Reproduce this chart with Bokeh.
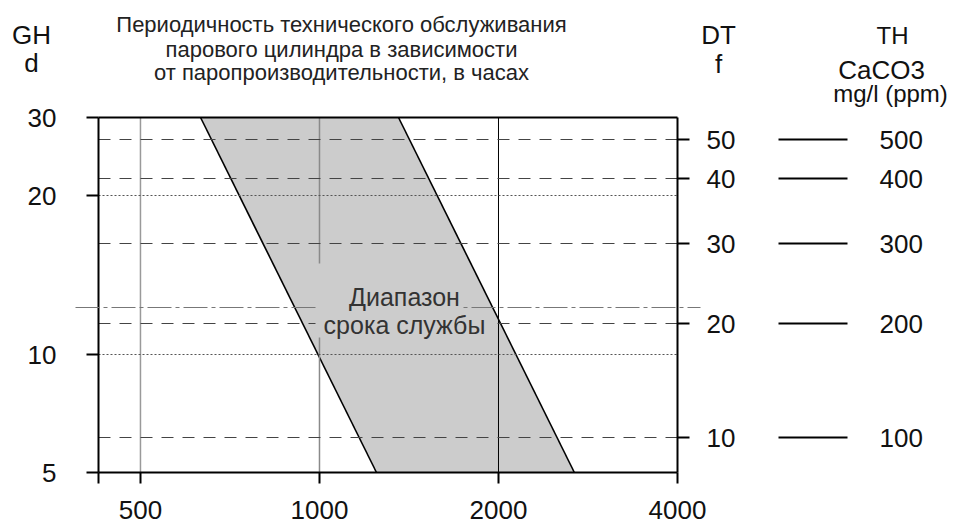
import math
from bokeh.plotting import figure
from bokeh.models import (Range1d, FixedTicker, LinearAxis, LogAxis, Label,
                          Arrow, LinearScale, BoxAnnotation)
from bokeh.embed import file_html
from bokeh.resources import INLINE

# ---------------- data ----------------
hours_ticks = [500, 1000, 2000, 4000]          # steam output axis (log)
hours_min, hours_max = 425, 4000
gh_labels = ["5", "10", "20", "30"]            # GH d (left scale)
gh_pos = [0, 118, 277, 355]                    # position on nomogram scale
dt_labels = ["10", "20", "30", "40", "50"]     # DT f (right scale)
dt_pos = [35, 149, 229, 294, 333]
th_labels = ["100", "200", "300", "400", "500"]  # TH CaCO3 mg/l
band_hours = [631, 1358, 2683, 1247]           # service-life band corners
band_pos = [355, 355, 0, 0]
ref_line_pos = 165                              # dash-dot reference line
ref_line_px = [-23, 602]
gap_1000 = [355, 209, 137, 0]                   # 1000 h guide line pieces

title_lines = ["Периодичность технического обслуживания",
               "парового цилиндра в зависимости",
               "от паропроизводительности, в часах"]
band_text = ["Диапазон", "срока службы"]

FONT = "Liberation Sans"

# ---------------- layout (frame drawn as whole canvas) ----------------
W, H = 955, 523
F_LEFT, F_RIGHT, F_TOP, F_BOTTOM = 98, 677, 117, 472
k = math.log(hours_max / hours_min) / (F_RIGHT - F_LEFT)
x_start = hours_min * math.exp(-k * F_LEFT)
x_end = hours_max * math.exp(k * (W - F_RIGHT))
scale_top = gh_pos[-1]
y_start = -(H - F_BOTTOM)
y_end = scale_top + F_TOP

p = figure(width=W, height=H, x_axis_type="log",
           x_axis_location=None, y_axis_location=None,
           x_range=Range1d(x_start, x_end), y_range=Range1d(y_start, y_end),
           output_backend="svg", toolbar_location=None, title=None,
           min_border=0)
p.extra_x_ranges = {"px": Range1d(-F_LEFT, W - F_LEFT)}
p.extra_x_scales = {"px": LinearScale()}
p.xgrid.visible = False
p.ygrid.visible = False
p.outline_line_color = None
p.background_fill_color = "white"
p.border_fill_color = "white"

# band
p.patch(band_hours, band_pos, fill_color="#cccccc", line_color=None)
p.line([band_hours[0], band_hours[3]], [band_pos[0], band_pos[3]],
       line_color="black", line_width=1.6)
p.line(band_hours[1:3], band_pos[1:3], line_color="black", line_width=1.6)

# vertical guides
p.segment(x0=[hours_ticks[0]], y0=[0], x1=[hours_ticks[0]], y1=[scale_top],
          line_color="#9a9a9a", line_width=1.5)
p.segment(x0=[hours_ticks[1]] * 2, y0=gap_1000[0::2],
          x1=[hours_ticks[1]] * 2, y1=gap_1000[1::2],
          line_color="#8a8a8a", line_width=1.5)
p.segment(x0=[hours_ticks[2]], y0=[0], x1=[hours_ticks[2]], y1=[scale_top],
          line_color="black", line_width=1)

# horizontal guides
n = len(dt_pos)
p.segment(x0=[hours_min] * n, y0=dt_pos, x1=[hours_max] * n, y1=dt_pos,
          line_color="#444444", line_width=1, line_dash="12 9")
p.segment(x0=[hours_min] * 2, y0=gh_pos[1:3], x1=[hours_max] * 2, y1=gh_pos[1:3],
          line_color="#555555", line_width=1, line_dash="2 2")
# top border of the chart box
p.segment(x0=[hours_min], y0=[scale_top], x1=[hours_max], y1=[scale_top],
          line_color="black", line_width=2)

p.add_layout(Arrow(end=None, x_start=ref_line_px[0], x_end=ref_line_px[1],
                   y_start=ref_line_pos, y_end=ref_line_pos,
                   x_range_name="px", line_color="#777777", line_width=1,
                   line_dash="24 4 4 4"))

# band label with its own background behind each line
for (l, r, b, t) in [(219, 362, 162, 189), (217, 392, 135, 162)]:
    p.add_layout(BoxAnnotation(left=l, right=r, bottom=b, top=t,
                               x_range_name="px", fill_color="#cccccc",
                               fill_alpha=1, line_color=None))
for (yy, t) in zip([176, 148], band_text):
    p.add_layout(Label(x=306, y=yy, x_range_name="px", text=t,
                       text_align="center", text_baseline="middle",
                       text_font=FONT, text_font_size="25px",
                       text_color="#333333"))

# axes
def style(ax, tin, tout, standoff):
    ax.axis_line_color = "black"
    ax.axis_line_width = 2
    ax.major_tick_line_color = "black"
    ax.major_tick_line_width = 2
    ax.major_tick_in = tin
    ax.major_tick_out = tout
    ax.minor_tick_line_color = None
    ax.major_label_standoff = standoff
    ax.major_label_text_font = FONT
    ax.major_label_text_font_size = "26px"
    ax.major_label_text_color = "#111111"

xa = LogAxis(fixed_location=0, bounds=(hours_min, hours_max),
             ticker=FixedTicker(ticks=[hours_min] + hours_ticks),
             major_label_overrides={hours_min: "", **{t: str(t) for t in hours_ticks}})
style(xa, 0, 11, 17)
p.add_layout(xa, "below")

ya = LinearAxis(fixed_location=hours_min, bounds=(0, scale_top),
                ticker=FixedTicker(ticks=gh_pos),
                major_label_overrides=dict(zip(gh_pos, gh_labels)))
style(ya, 0, 12, 30)
p.add_layout(ya, "left")

dt_axis = LinearAxis(fixed_location=hours_max, bounds=(0, scale_top),
                     ticker=FixedTicker(ticks=dt_pos),
                     major_label_overrides=dict(zip(dt_pos, dt_labels)))
style(dt_axis, 0, 12, 17)
p.add_layout(dt_axis, "right")

th_axis = LinearAxis(x_range_name="px", fixed_location=680,
                     ticker=FixedTicker(ticks=dt_pos),
                     major_label_overrides=dict(zip(dt_pos, th_labels)))
style(th_axis, 0, 69, 32)
th_axis.axis_line_color = None
th_axis.major_tick_line_width = 1.8
p.add_layout(th_axis, "right")

# header texts
def txt(x, y, t, size="26px", color="#111111"):
    p.add_layout(Label(x=x, y=y, x_range_name="px", text=t, text_align="center",
                       text_baseline="middle", text_font=FONT,
                       text_font_size=size, text_color=color))

for (yy, t) in zip([448, 423, 400], title_lines):
    txt(243, yy, t, size="22px", color="#222222")
txt(-67, 438, "GH")
txt(-67, 410, "d")
txt(620, 438, "DT")
txt(620, 409, "f")
txt(794, 437, "TH", size="24px")
txt(783, 403, "CaCO3", size="26px")
txt(792, 379, "mg/l (ppm)", size="24px")

open("out.html", "w").write(file_html(p, INLINE))
